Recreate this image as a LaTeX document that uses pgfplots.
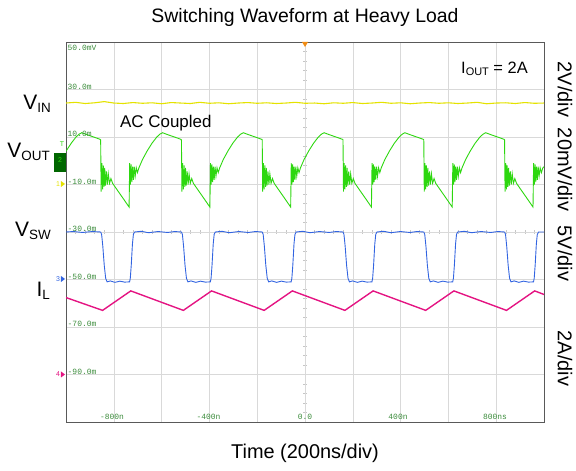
\documentclass[border=0pt]{standalone}
\usepackage{pgfplots}
\pgfplotsset{compat=1.18}
\usepackage{fontspec}
\setmainfont{Liberation Sans}
\setmonofont{Liberation Mono}
\definecolor{vin}{RGB}{228,226,0}
\definecolor{vout}{RGB}{45,215,15}
\definecolor{vsw}{RGB}{50,100,225}
\definecolor{il}{RGB}{228,20,130}
\definecolor{lblg}{RGB}{60,140,60}
\definecolor{trig}{RGB}{240,140,20}
\begin{document}
\begin{tikzpicture}
% center-line minor ticks (scope graticule)
\foreach \y in {0,9.5,...,380} \draw[gray!45,line width=0.5pt] (237bp,\y bp)--(241bp,\y bp);
\foreach \x in {0,9.56,...,478} \draw[gray!45,line width=0.5pt] (\x bp,188bp)--(\x bp,192bp);
\begin{axis}[at={(0,0)}, anchor=south west, scale only axis,
  width=478bp, height=380bp,
  xmin=-1000, xmax=1000, ymin=-110, ymax=50,
  xtick={-800,-600,...,800}, ytick={-90,-70,...,30},
  xticklabels={}, yticklabels={}, major tick length=0pt,
  grid=major, grid style={draw=gray!30, line width=0.6pt},
  axis line style={draw=black!65, line width=0.8pt},
  clip=true]
% V_IN
\addplot[vin, line width=1.1pt] coordinates {(-1000,24.3)(-960,24.6)(-920,24.1)(-880,24.4)(-840,24.9)(-800,24.3)(-760,24.1)(-720,24.5)(-680,24.2)(-640,24.4)(-600,24.0)(-560,24.5)(-520,24.3)(-480,24.1)(-440,24.6)(-400,24.2)(-360,24.4)(-320,24.0)(-280,24.3)(-240,24.5)(-200,24.2)(-160,24.4)(-120,24.1)(-80,24.3)(-40,24.6)(0,24.2)(40,24.3)(80,24.0)(120,24.4)(160,24.2)(200,24.5)(240,24.1)(280,24.3)(320,24.6)(360,24.2)(400,24.4)(440,24.0)(480,24.3)(520,24.5)(560,24.2)(600,24.4)(640,24.1)(680,24.3)(720,24.6)(760,24.0)(800,24.3)(840,24.4)(880,24.1)(920,24.5)(960,24.2)(1000,24.3)};
% V_OUT
\addplot[vout, line width=0.9pt] coordinates {
(-1000,4.0)(-978,7.4)(-958,10)(-945,11.2)(-934,11.8)(-913,11.0)(-893,10.3)(-873,9.6)(-857,9.0)
(-855,8.8)(-853,-13)(-850,-1)(-847,-12)(-844,-2)(-841,-11)(-838,-3)(-835,-10.5)(-831,-4.5)(-827,-10)(-823,-5.5)(-818,-9.5)(-812,-7.5)(-805,-9.5)(-785,-12.4)(-760,-16.0)(-736,-19.5)
(-733.5,-1)(-730.5,-10)(-727.5,-1.5)(-724.5,-9)(-721.5,-2.5)(-718,-8)(-714.5,-2.5)(-710.5,-6.5)(-706,-3)(-701,-5)(-695,-3)
(-680,0.5)(-660,4.2)(-640,7.4)(-620,10)(-607,11.2)(-596,11.8)(-575,11.0)(-555,10.3)(-535,9.6)(-519,9.0)
(-517,8.8)(-515,-13)(-512,-1)(-509,-12)(-506,-2)(-503,-11)(-500,-3)(-497,-10.5)(-493,-4.5)(-489,-10)(-485,-5.5)(-480,-9.5)(-474,-7.5)(-467,-9.5)(-447,-12.4)(-422,-16.0)(-398,-19.5)
(-395.5,-1)(-392.5,-10)(-389.5,-1.5)(-386.5,-9)(-383.5,-2.5)(-380,-8)(-376.5,-2.5)(-372.5,-6.5)(-368,-3)(-363,-5)(-357,-3)
(-342,0.5)(-322,4.2)(-302,7.4)(-282,10)(-269,11.2)(-258,11.8)(-237,11.0)(-217,10.3)(-197,9.6)(-181,9.0)
(-179,8.8)(-177,-13)(-174,-1)(-171,-12)(-168,-2)(-165,-11)(-162,-3)(-159,-10.5)(-155,-4.5)(-151,-10)(-147,-5.5)(-142,-9.5)(-136,-7.5)(-129,-9.5)(-109,-12.4)(-84,-16.0)(-60,-19.5)
(-57.5,-1)(-54.5,-10)(-51.5,-1.5)(-48.5,-9)(-45.5,-2.5)(-42,-8)(-38.5,-2.5)(-34.5,-6.5)(-30,-3)(-25,-5)(-19,-3)
(-4,0.5)(16,4.2)(36,7.4)(56,10)(69,11.2)(80,11.8)(101,11.0)(121,10.3)(141,9.6)(157,9.0)
(159,8.8)(161,-13)(164,-1)(167,-12)(170,-2)(173,-11)(176,-3)(179,-10.5)(183,-4.5)(187,-10)(191,-5.5)(196,-9.5)(202,-7.5)(209,-9.5)(229,-12.4)(254,-16.0)(278,-19.5)
(280.5,-1)(283.5,-10)(286.5,-1.5)(289.5,-9)(292.5,-2.5)(296,-8)(299.5,-2.5)(303.5,-6.5)(308,-3)(313,-5)(319,-3)
(334,0.5)(354,4.2)(374,7.4)(394,10)(407,11.2)(418,11.8)(439,11.0)(459,10.3)(479,9.6)(495,9.0)
(497,8.8)(499,-13)(502,-1)(505,-12)(508,-2)(511,-11)(514,-3)(517,-10.5)(521,-4.5)(525,-10)(529,-5.5)(534,-9.5)(540,-7.5)(547,-9.5)(567,-12.4)(592,-16.0)(616,-19.5)
(618.5,-1)(621.5,-10)(624.5,-1.5)(627.5,-9)(630.5,-2.5)(634,-8)(637.5,-2.5)(641.5,-6.5)(646,-3)(651,-5)(657,-3)
(672,0.5)(692,4.2)(712,7.4)(732,10)(745,11.2)(756,11.8)(777,11.0)(797,10.3)(817,9.6)(833,9.0)
(835,8.8)(837,-13)(840,-1)(843,-12)(846,-2)(849,-11)(852,-3)(855,-10.5)(859,-4.5)(863,-10)(867,-5.5)(872,-9.5)(878,-7.5)(885,-9.5)(905,-12.4)(930,-16.0)(954,-19.5)
(956.5,-1)(959.5,-10)(962.5,-1.5)(965.5,-9)(968.5,-2.5)(972,-8)(975.5,-2.5)(979.5,-6.5)(984,-3)(989,-5)(995,-3)(1000,-2.5)};
% V_SW
\addplot[vsw, line width=0.9pt] coordinates {
(-1000,-30)(-970,-29.8)(-930,-30.2)(-890,-29.8)
(-855,-30)(-851,-31)(-846,-36)(-840,-44)(-834,-49.5)(-828,-51)(-815,-50.6)(-795,-51.2)(-775,-50.7)(-755,-51.1)(-734,-51)(-731,-49.5)(-727,-44)(-722,-35)(-718,-31)(-713,-30)(-685,-29.7)(-655,-30.3)(-615,-29.8)(-575,-30.2)(-545,-29.8)
(-517,-30)(-513,-31)(-508,-36)(-502,-44)(-496,-49.5)(-490,-51)(-477,-50.6)(-457,-51.2)(-437,-50.7)(-417,-51.1)(-396,-51)(-393,-49.5)(-389,-44)(-384,-35)(-380,-31)(-375,-30)(-347,-29.7)(-317,-30.3)(-277,-29.8)(-237,-30.2)(-207,-29.8)
(-179,-30)(-175,-31)(-170,-36)(-164,-44)(-158,-49.5)(-152,-51)(-139,-50.6)(-119,-51.2)(-99,-50.7)(-79,-51.1)(-58,-51)(-55,-49.5)(-51,-44)(-46,-35)(-42,-31)(-37,-30)(-9,-29.7)(21,-30.3)(61,-29.8)(101,-30.2)(131,-29.8)
(159,-30)(163,-31)(168,-36)(174,-44)(180,-49.5)(186,-51)(199,-50.6)(219,-51.2)(239,-50.7)(259,-51.1)(280,-51)(283,-49.5)(287,-44)(292,-35)(296,-31)(301,-30)(329,-29.7)(359,-30.3)(399,-29.8)(439,-30.2)(469,-29.8)
(497,-30)(501,-31)(506,-36)(512,-44)(518,-49.5)(524,-51)(537,-50.6)(557,-51.2)(577,-50.7)(597,-51.1)(618,-51)(621,-49.5)(625,-44)(630,-35)(634,-31)(639,-30)(667,-29.7)(697,-30.3)(737,-29.8)(777,-30.2)(807,-29.8)
(835,-30)(839,-31)(844,-36)(850,-44)(856,-49.5)(862,-51)(875,-50.6)(895,-51.2)(915,-50.7)(935,-51.1)(956,-51)(959,-49.5)(963,-44)(968,-35)(972,-31)(977,-30)(1000,-30)};
% I_L
\addplot[il, line width=1.4pt] coordinates {(-1000,-57.6)(-847,-63)(-729,-54.8)(-509,-63)(-391,-54.8)(-171,-63)(-53,-54.8)(167,-63)(285,-54.8)(505,-63)(623,-54.8)(843,-63)(961,-54.8)(1000,-56.3)};
\end{axis}
% trigger marker
\fill[trig] (236bp,380bp)--(242bp,380bp)--(239bp,375bp)--cycle;
% scale labels
\begin{scope}[every node/.style={font=\ttfamily\fontsize{8}{9}\selectfont, text=lblg, inner sep=0pt}]
\node[anchor=west] at (1.5bp,374bp) {50.0mV};
\node[anchor=west] at (1.5bp,335.5bp) {30.0m};
\node[anchor=west] at (1.5bp,288bp) {10.0m};
\node[anchor=west] at (1.5bp,240.5bp) {-10.0m};
\node[anchor=west] at (1.5bp,193bp) {-30.0m};
\node[anchor=west] at (1.5bp,145.5bp) {-50.0m};
\node[anchor=west] at (1.5bp,98bp) {-70.0m};
\node[anchor=west] at (1.5bp,50.5bp) {-90.0m};
\node at (46bp,5bp) {-800n};
\node at (142.5bp,5bp) {-400n};
\node at (239bp,5bp) {0.0};
\node at (332bp,5bp) {400n};
\node at (429bp,5bp) {800ns};
\end{scope}
% channel markers
\fill[vin] (-1bp,238bp)--(-5bp,241bp)--(-5bp,235bp)--cycle;
\node[font=\fontsize{7}{8}\selectfont, text=vin, inner sep=0pt] at (-8bp,238bp) {1};
\fill[green!40!black] (-12bp,250bp) rectangle (0bp,269bp);
\node[font=\fontsize{7}{8}\selectfont, text=vout, inner sep=0pt] at (-6bp,262bp) {2};
\node[font=\fontsize{7}{8}\selectfont, text=vout, inner sep=0pt] at (-4bp,278bp) {T};
\fill[vsw] (-1bp,143bp)--(-5bp,146bp)--(-5bp,140bp)--cycle;
\node[font=\fontsize{7}{8}\selectfont, text=vsw, inner sep=0pt] at (-8bp,143bp) {3};
\fill[il] (-1bp,47.5bp)--(-5bp,50.5bp)--(-5bp,44.5bp)--cycle;
\node[font=\fontsize{7}{8}\selectfont, text=il, inner sep=0pt] at (-8bp,47.5bp) {4};
% texts
\node[anchor=base, font=\fontsize{19.5}{22}\selectfont] at (239bp,399bp) {Switching Waveform at Heavy Load};
\node[anchor=base, font=\fontsize{20}{22}\selectfont] at (239bp,-36bp) {Time (200ns/div)};
\node[anchor=base west, font=\fontsize{16.5}{18}\selectfont, inner sep=0pt] at (395bp,348.7bp) {I\raisebox{-2.5bp}{\fontsize{11}{12}\selectfont OUT} = 2A};
\node[anchor=base west, font=\fontsize{17}{19}\selectfont, inner sep=0pt] at (54bp,294bp) {AC Coupled};
\begin{scope}[every node/.style={anchor=base east, inner sep=0pt, font=\fontsize{21}{23}\selectfont}]
\node at (-15bp,312bp) {V\raisebox{-3bp}{\fontsize{13.5}{15}\selectfont IN}};
\node at (-16bp,264bp) {V\raisebox{-3bp}{\fontsize{13.5}{15}\selectfont OUT}};
\node at (-15bp,185bp) {V\raisebox{-3bp}{\fontsize{13.5}{15}\selectfont SW}};
\node at (-16bp,125bp) {I\raisebox{-3bp}{\fontsize{13.5}{15}\selectfont L}};
\end{scope}
\begin{scope}[every node/.style={rotate=-90, inner sep=0pt, font=\fontsize{20}{22}\selectfont}]
\node at (499bp,332.5bp) {2V/div};
\node at (499bp,252.5bp) {20mV/div};
\node at (499bp,168.5bp) {5V/div};
\node at (499bp,63.5bp) {2A/div};
\end{scope}
\path[use as bounding box] (-66bp,-49bp) rectangle (510bp,422bp);
\end{tikzpicture}
\end{document}
